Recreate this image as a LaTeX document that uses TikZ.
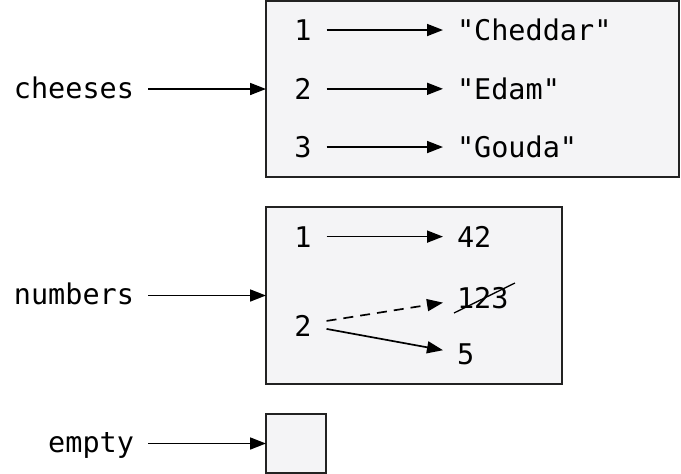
\documentclass[tikz,border=0pt]{standalone}
\usepackage{fontspec}
\setmonofont{DejaVu Sans Mono}
\usetikzlibrary{arrows.meta}
\definecolor{boxfill}{RGB}{244,244,246}
\definecolor{boxline}{RGB}{34,34,34}
\tikzset{
  membox/.style={draw=boxline, fill=boxfill, line width=2pt, inner sep=0pt, outer sep=0pt},
  txt/.style={inner sep=0pt, outer sep=0pt, text=black},
  arr/.style={line width=1.7pt, -{Triangle[length=16pt,width=12pt]}},
}
\begin{document}
\begin{tikzpicture}[x=1pt, y=-1pt, font=\ttfamily\fontsize{28.5}{30}\selectfont]
\useasboundingbox (0,0) rectangle (681,474);

% boxes
\node[membox, minimum width=413pt, minimum height=176pt] (box1) at (472.5,89) {};
\node[membox, minimum width=296pt, minimum height=177pt] (box2) at (414,295.5) {};
\node[membox, minimum width=60pt, minimum height=59pt] (box3) at (296,443.5) {};

% labels
\node[txt, anchor=base east] (cheeses) at ([shift={(-132pt,-9pt)}]box1.west) {cheeses};
\node[txt, anchor=base east] (numbers) at ([shift={(-132pt,-9pt)}]box2.west) {numbers};
\node[txt, anchor=base east] (empty) at ([shift={(-132pt,-9pt)}]box3.west) {empty};
\draw[arr, shorten <=14pt] (box1.west -| cheeses.east) -- (box1.west);
\draw[arr, shorten <=14pt] (box2.west -| numbers.east) -- (box2.west);
\draw[arr, shorten <=14pt] (box3.west -| empty.east) -- (box3.west);

% cheeses contents
\node[txt, anchor=base] (c1) at (303,40.4) {1};
\node[txt, anchor=base] (c2) at (303,99.4) {2};
\node[txt, anchor=base] (c3) at (303,157.4) {3};
\node[txt, anchor=base west] (s1) at (457,40.4) {"Cheddar"};
\node[txt, anchor=base west] (s2) at (457,99.4) {"Edam"};
\node[txt, anchor=base west] (s3) at (457,157.4) {"Gouda"};
\draw[arr, shorten <=15pt, shorten >=14pt] (c1.east) -- (c1.east -| s1.west);
\draw[arr, shorten <=15pt, shorten >=14pt] (c2.east) -- (c2.east -| s2.west);
\draw[arr, shorten <=15pt, shorten >=14pt] (c3.east) -- (c3.east -| s3.west);

% numbers contents
\node[txt, anchor=base] (n1) at (303,247) {1};
\node[txt, anchor=base] (n2) at (303,336) {2};
\node[txt, anchor=base west] (v42) at (457,247) {42};
\node[txt, anchor=base west] (v123) at (457,308) {123};
\node[txt, anchor=base west] (v5) at (457,364) {5};
\draw[arr, shorten <=15pt, shorten >=14pt] (n1.east) -- (n1.east -| v42.west);
\draw[arr, dash pattern=on 10pt off 7pt] ([xshift=15pt,yshift=4.5pt]n2.east) -- ([xshift=-14pt,yshift=-5pt]v123.west);
\draw[arr] ([xshift=15pt,yshift=-3.5pt]n2.east) -- ([xshift=-14pt,yshift=3.6pt]v5.west);
\draw[line width=1.3pt] ([shift={(-3pt,-5pt)}]v123.base west) -- ([shift={(6.5pt,25pt)}]v123.base east);
\end{tikzpicture}
\end{document}
